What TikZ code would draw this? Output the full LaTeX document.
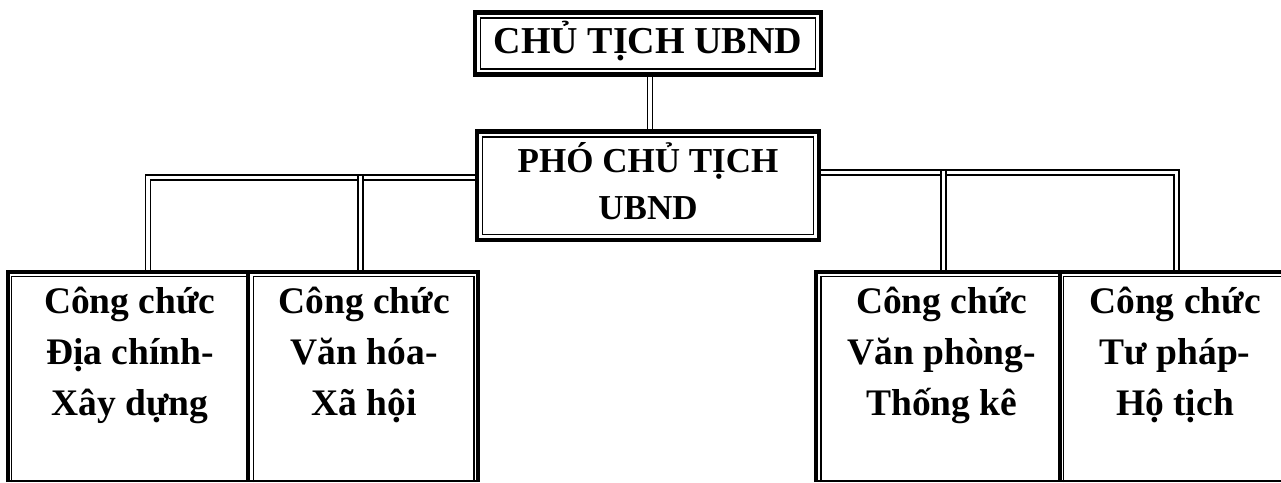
\documentclass[tikz,border=0pt]{standalone}
\usepackage{fontspec}
\setmainfont{Liberation Serif}
\usetikzlibrary{calc}
\pgfdeclarelayer{bg}
\pgfsetlayers{bg,main}
\begin{document}
\begin{tikzpicture}[x=1pt,y=-1pt,
  thickb/.style={line width=4pt, line join=miter},
  thinb/.style={line width=1.4pt},
  box/.style={draw, line width=4.5pt, outer sep=0pt, inner sep=0pt},
  boxtext/.style={align=center, inner sep=0pt, font=\bfseries\fontsize{38}{47}\selectfont},
  conn/.style={double, double distance=3.6pt, line width=1.4pt},
  cell/.style={outer sep=0pt, inner sep=0pt},
  celltext/.style={align=center, inner sep=0pt, font=\bfseries\fontsize{37.5}{51}\selectfont}]
\useasboundingbox (0,0) rectangle (1281,482);
\clip (0,0) rectangle (1281,482);
% boxes
\node[box, minimum width=346pt, minimum height=62pt,
  label={[boxtext, yshift=2pt]center:{CHỦ TỊCH UBND}}] (t) at (648,43.5) {};
\node[box, minimum width=342pt, minimum height=108.5pt,
  label={[boxtext, font=\bfseries\fontsize{35}{47}\selectfont, yshift=5pt]center:{PHÓ CHỦ TỊCH\\UBND}}] (p) at (648,185.75) {};
\foreach \n in {t,p}
  \draw[thinb] ([shift={(5.5,5.5)}]\n.north west) rectangle ([shift={(-5.5,-5.5)}]\n.south east);
% cells
\node[cell, minimum width=240.8pt, minimum height=209pt,
  label={[celltext, anchor=north, xshift=2pt, yshift=-15pt]north:{Công chức\\Địa chính-\\Xây dựng}}]
  (c1) at (127.9,376.5) {};
\node[cell, minimum width=229.7pt, minimum height=209pt,
  label={[celltext, anchor=north, xshift=1pt, yshift=-15pt]north:{Công chức\\Văn hóa-\\Xã hội}}]
  (c2) at (363.15,376.5) {};
\node[cell, minimum width=244.1pt, minimum height=209pt,
  label={[celltext, anchor=north, xshift=4pt, yshift=-15pt]north:{Công chức\\Văn phòng-\\Thống kê}}]
  (c3) at (937.75,376.5) {};
\node[cell, minimum width=221.2pt, minimum height=209pt,
  label={[celltext, anchor=north, xshift=4.6pt, yshift=-15pt]north:{Công chức\\Tư pháp-\\Hộ tịch}}]
  (c4) at (1170.4,376.5) {};
% junctions
\coordinate (jl) at (148,177.5);
\coordinate (jl2) at (360.5,175.7);
\coordinate (jr) at (1176.5,172.5);
\coordinate (jr2) at (943.5,170.7);
\begin{pgfonlayer}{bg}
\fill[white] (0,0) rectangle (1281,482);
\draw[conn] ([xshift=2pt]t.south) -- ([xshift=2pt]p.north);
\draw[conn] (p.west |- jl) -| (c1.north -| jl);
\draw[conn] (jl2) -- (c2.north -| jl2);
\draw[conn] (p.east |- jr) -| (c4.north -| jr);
\draw[conn] (jr2) -- (c3.north -| jr2);
\end{pgfonlayer}
% left table borders
\draw[thickb] (7.5,482) -- (7.5,272) -- (478,272) -- (478,482);
\draw[thickb] (248.3,272) -- (248.3,482);
\draw[thinb] (11.7,482) -- (11.7,276.3) -- (246.3,276.3);
\draw[thinb] (253.3,482) -- (253.3,276.3) -- (474,276.3) -- (474,482);
\draw[thinb] (7.5,481) -- (478,481);
% right table borders
\draw[thickb] (815.7,482) -- (815.7,272) -- (1281,272);
\draw[thickb] (1059.8,272) -- (1059.8,482);
\draw[thinb] (820.8,482) -- (820.8,276.3) -- (1057.8,276.3);
\draw[thinb] (1063.3,482) -- (1063.3,276.3) -- (1281,276.3);
\draw[thinb] (815.7,481) -- (1281,481);
\end{tikzpicture}
\end{document}
